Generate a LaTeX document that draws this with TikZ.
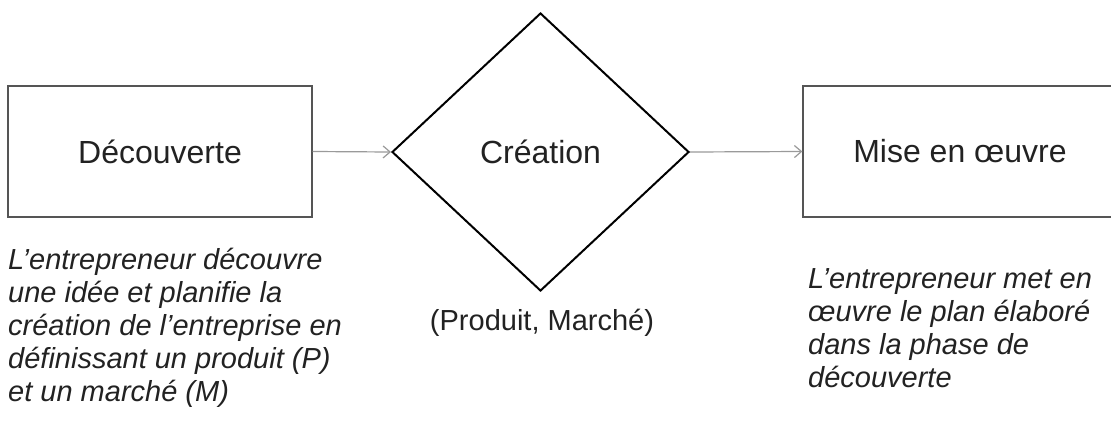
\documentclass[tikz,border=0pt]{standalone}
\usepackage{fontspec}
\setmainfont{Liberation Sans}
\usetikzlibrary{shapes.geometric,arrows.meta}
\definecolor{boxline}{HTML}{555555}
\definecolor{arrowgray}{HTML}{9A9A9A}
\definecolor{txt}{HTML}{222222}
\begin{document}
\begin{tikzpicture}[x=1pt,y=-1pt,
  phase/.style={draw=boxline, line width=1.3pt, minimum height=131pt,
    inner sep=0pt, text=txt, font=\fontsize{32}{38}\selectfont},
  decision/.style={diamond, draw=black, line width=2pt, minimum width=297pt,
    minimum height=278pt, inner sep=0pt, text=txt, font=\fontsize{32}{38}\selectfont},
  flow/.style={draw=arrowgray, line width=1.2pt,
    -{Straight Barb[length=7pt,width=12pt]}},
  note/.style={align=left, inner sep=0pt, text=txt,
    font=\fontsize{29}{33}\selectfont\itshape, anchor=north west}]
  % page frame
  \clip (0,0) rectangle (1111,426);
  \fill[white] (0,0) rectangle (1111,426);

  % the three phases
  \node[phase, minimum width=304pt] (decouverte) at (160,151.5) {Découverte};
  \node[decision] (creation) at (540.5,152) {Création};
  \node[phase, minimum width=314pt] (mise) at (960,151.5) {Mise en œuvre};

  % flow between phases
  \draw[flow] (decouverte.east) -- (creation.west);
  \draw[flow] (creation.east) -- (mise.west);

  % descriptions
  \node[note] (notegauche) at (8,248) {L’entrepreneur découvre\\une idée et planifie la\\création de l’entreprise en\\définissant un produit (P)\\et un marché (M)};
  \node[anchor=base, inner sep=0pt, text=txt, font=\fontsize{29}{33}\selectfont]
    (couple) at (542,330) {(Produit, Marché)};
  \node[note] (notedroite) at (808,268) {L’entrepreneur met en\\œuvre le plan élaboré\\dans la phase de\\découverte};
\end{tikzpicture}
\end{document}
